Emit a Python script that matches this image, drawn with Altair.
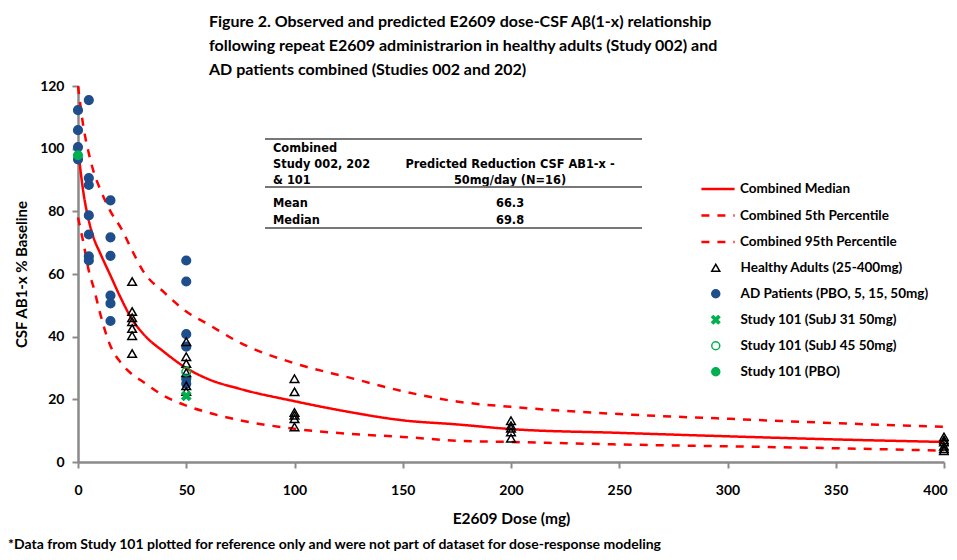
import altair as alt
import pandas as pd

# ---------------- data ----------------
title_lines = [
    "Figure 2. Observed and predicted E2609 dose-CSF Aβ(1-x) relationship",
    "following repeat E2609 administrarion in healthy adults  (Study 002) and",
    "AD patients combined (Studies 002 and 202)",
]
footnote = "*Data from Study 101 plotted for reference only and were not part of dataset for dose-response modeling"

x_ticks = [0, 50, 100, 150, 200, 250, 300, 350, 400]
y_ticks = [0, 20, 40, 60, 80, 100, 120]

curve_names = ["Combined Median", "Combined 5th Percentile", "Combined 95th Percentile"]
curve_doses = [0, 2.5, 5, 7.5, 10, 15, 20, 25, 30, 40, 50, 60, 75, 100, 125, 150, 175, 200, 250, 300, 350, 400]
median_vals = [100, 86, 77, 71, 67, 59.5, 52, 45.5, 41, 35, 30, 26.5, 23.3, 19.4, 16, 13.3, 12, 10.5, 9.3, 8.2, 7.2, 6.4]
p5_vals = [78, 70, 61, 55, 48, 37, 31.5, 28, 25.6, 21, 18, 15.8, 13.3, 10.6, 9, 8, 6.8, 6.4, 5.6, 5, 4.4, 3.6]
p95_vals = [120, 107, 98.5, 92, 87.5, 80, 74.5, 67.5, 61, 54, 48, 44, 38, 31.5, 27, 22.6, 19.3, 17.6, 15.3, 13.8, 12.4, 11.2]

series_names = [
    "Healthy Adults (25-400mg)",
    "AD Patients (PBO, 5, 15, 50mg)",
    "Study 101 (SubJ 31 50mg)",
    "Study 101 (SubJ 45 50mg)",
    "Study 101 (PBO)",
]
ad_dose = [0, 0, 0, 0, 5, 5, 5, 5, 5, 5, 5, 15, 15, 15, 15, 15, 15, 50, 50, 50, 50, 50, 50]
ad_val = [112.3, 105.9, 100.5, 96.6, 115.5, 90.6, 88.4, 78.7, 72.6, 65.6, 64.3,
          83.5, 71.7, 65.8, 53.1, 50.6, 45.0, 64.3, 57.6, 40.8, 36.8, 26.6, 25.0]
ha_dose = [25] * 7 + [50] * 6 + [100] * 6 + [200] * 5 + [400] * 6
ha_val = [57.6, 48, 46, 44.8, 42.6, 40.3, 34.6,
          38.4, 33.6, 31.4, 28.5, 24.3, 22.5,
          26.6, 22.4, 15.8, 14.9, 13.8, 11.2,
          13.2, 11.6, 10.8, 9.6, 7.6,
          8.0, 7.0, 6.4, 5.0, 4.2, 3.6]
s31_dose = [50]
s31_val = [21.1]
s45_dose = [50]
s45_val = [28.8]
pbo_dose = [0]
pbo_val = [97.9]

table_header_left = ["Combined", "Study 002, 202", "& 101"]
table_header_right = ["Predicted Reduction  CSF AB1-x -", "50mg/day (N=16)"]
table_row_labels = ["Mean", "Median"]
table_row_values = ["66.3", "69.8"]

# ---------------- frames ----------------
line_df = pd.concat([
    pd.DataFrame({"dose": curve_doses, "value": median_vals, "curve": curve_names[0]}),
    pd.DataFrame({"dose": curve_doses, "value": p5_vals, "curve": curve_names[1]}),
    pd.DataFrame({"dose": curve_doses, "value": p95_vals, "curve": curve_names[2]}),
])
pt_df = pd.concat([
    pd.DataFrame({"dose": ad_dose, "value": ad_val, "series": series_names[1], "o": 1}),
    pd.DataFrame({"dose": ha_dose, "value": ha_val, "series": series_names[0], "o": 2}),
    pd.DataFrame({"dose": s31_dose, "value": s31_val, "series": series_names[2], "o": 3}),
    pd.DataFrame({"dose": s45_dose, "value": s45_val, "series": series_names[3], "o": 4}),
    pd.DataFrame({"dose": pbo_dose, "value": pbo_val, "series": series_names[4], "o": 5}),
])

FONT = "Lato"
AXC = "#8a8a8a"
RED = "#FF0000"
BLUE = "#1F4E8C"
GREEN = "#00B050"
XSHAPE = "M-1,-0.6L-0.6,-1L0,-0.4L0.6,-1L1,-0.6L0.4,0L1,0.6L0.6,1L0,0.4L-0.6,1L-1,0.6L-0.4,0Z"

x_enc = alt.X("dose:Q", scale=alt.Scale(domain=[0, 400], nice=False, zero=True),
              axis=alt.Axis(values=x_ticks, title="E2609 Dose (mg)", grid=False,
                            labelFont=FONT, labelFontSize=14, labelFontWeight="bold", labelColor="#000",
                            titleFont=FONT, titleFontSize=15.5, titleFontWeight="bold", titleColor="#000",
                            domainColor=AXC, domainWidth=2.5, tickColor=AXC, tickWidth=2, tickSize=6,
                            labelPadding=15, titlePadding=14, labelFlush=False,
                            labelOffset={"condition": {"test": "datum.value == 400", "value": -9},
                                         "value": 0}))
y_enc = alt.Y("value:Q", scale=alt.Scale(domain=[0, 120], nice=False),
              axis=alt.Axis(values=y_ticks, title="CSF AB1-x % Baseline", grid=False,
                            labelFont=FONT, labelFontSize=14, labelFontWeight="bold", labelColor="#000",
                            titleFont=FONT, titleFontSize=15, titleFontWeight="bold", titleColor="#000",
                            domainColor=AXC, domainWidth=2.5, tickColor=AXC, tickWidth=2, tickSize=6,
                            labelPadding=8, titlePadding=10, labelFlush=False))

ln_legend = alt.Legend(title=None, orient="none", legendX=622, legendY=85,
                       labelFont=FONT, labelFontSize=13.5, labelFontWeight="bold", labelColor="#000",
                       symbolSize=1100, symbolStrokeWidth=2.5, rowPadding=1.5, labelOffset=4,
                       labelLimit=300)
lines = alt.Chart(line_df).mark_line(strokeWidth=2.5, interpolate="monotone").encode(
    x=x_enc, y=y_enc,
    color=alt.Color("curve:N", scale=alt.Scale(domain=curve_names, range=[RED, RED, RED]), legend=ln_legend),
    strokeDash=alt.StrokeDash("curve:N", scale=alt.Scale(domain=curve_names, range=[[1, 0], [8, 8], [8, 8]]),
                              legend=ln_legend),
)

pt_legend = alt.Legend(title=None, orient="none", legendX=631, legendY=175,
                       labelFont=FONT, labelFontSize=13.5, labelFontWeight="bold", labelColor="#000",
                       symbolSize=64, symbolStrokeWidth=1.5, rowPadding=11, labelOffset=18,
                       labelLimit=300)
points = alt.Chart(pt_df).mark_point(size=75, strokeWidth=1.5, opacity=1, filled=False).encode(
    x="dose:Q", y="value:Q",
    shape=alt.Shape("series:N", scale=alt.Scale(domain=series_names,
                    range=["triangle-up", "circle", XSHAPE, "circle", "circle"]), legend=pt_legend),
    fill=alt.Fill("series:N", scale=alt.Scale(domain=series_names,
                  range=["transparent", BLUE, GREEN, "transparent", GREEN]), legend=pt_legend),
    stroke=alt.Stroke("series:N", scale=alt.Scale(domain=series_names,
                      range=["#000000", BLUE, GREEN, GREEN, GREEN]), legend=pt_legend),
    order="o:Q",
)

# ---------------- table annotation ----------------
TF = "DejaVu Sans"
layers = [lines, points]
one = pd.DataFrame({"a": [0]})


def txt(s, x, y, align="left"):
    return alt.Chart(one).mark_text(text=s, font=TF, fontSize=11.4, fontWeight="bold", color="#000",
                                    align=align, baseline="middle").encode(x=alt.value(x), y=alt.value(y))


def rule(y):
    return alt.Chart(one).mark_rule(color="#777777", strokeWidth=2).encode(
        x=alt.value(187), x2=alt.value(564), y=alt.value(y))


for i, s in enumerate(table_header_left):
    layers.append(txt(s, 195, 63 + 16 * i))
for i, s in enumerate(table_header_right):
    layers.append(txt(s, 432, 79 + 16 * i, "center"))
for i, s in enumerate(table_row_labels):
    layers.append(txt(s, 195, 118 + 17 * i))
for i, s in enumerate(table_row_values):
    layers.append(txt(s, 432, 118 + 17 * i, "center"))
for yy in [53, 101, 142]:
    layers.append(rule(yy))

layers.append(alt.Chart(one).mark_text(text=footnote, font=FONT, fontSize=14, fontWeight="bold",
                                       color="#000", align="left", baseline="middle").encode(
    x=alt.value(-70), y=alt.value(459)))

chart = alt.layer(*layers).properties(
    width=866, height=376,
    padding={"left": 0, "top": 6, "right": -3, "bottom": 0},
    title=alt.Title(text=title_lines, anchor="start", frame="group", dx=131, offset=1,
                    font=FONT, fontSize=16, fontWeight="bold", color="#000", lineHeight=24),
).configure_view(stroke=None)

chart.save("out.html", embed_options={"renderer": "svg", "actions": False})
